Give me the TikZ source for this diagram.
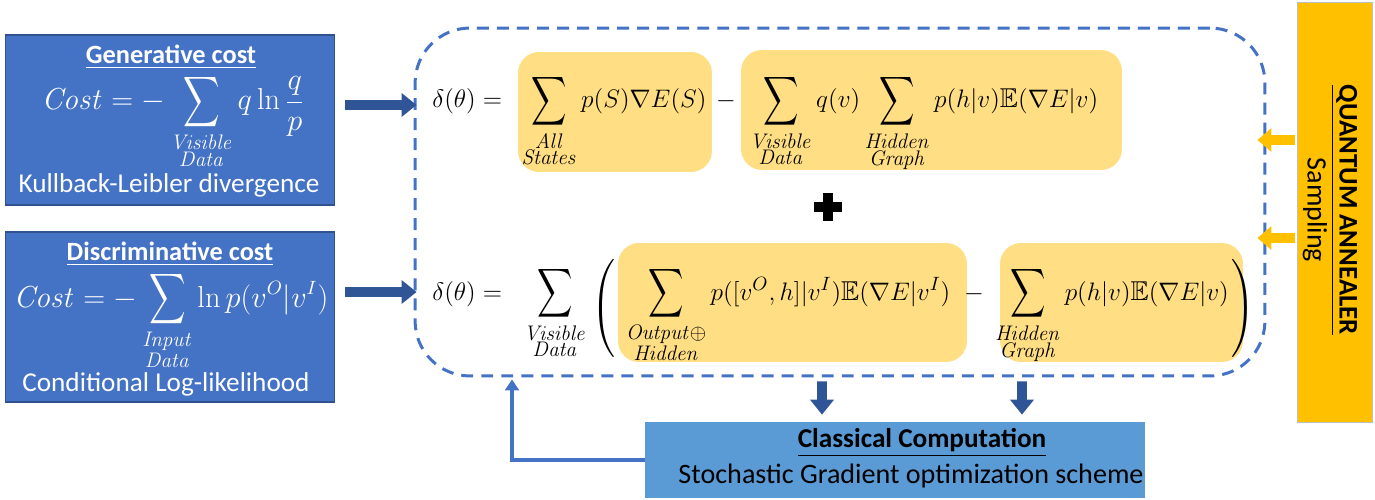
\documentclass[tikz,border=0pt]{standalone}
\usepackage{amsmath,amssymb}
\usepackage{graphicx}
\usepackage[no-math]{fontspec}
\setmainfont{Carlito}
\usetikzlibrary{arrows.meta}

\definecolor{costblue}{HTML}{4472C4}
\definecolor{costedge}{HTML}{2F528F}
\definecolor{arrowblue}{HTML}{2F5597}
\definecolor{termfill}{HTML}{FFDE84}
\definecolor{annealer}{HTML}{FFC000}
\definecolor{classical}{HTML}{5B9BD5}

% tall, narrow n-ary sum with limits underneath
\newcommand\Nsum{\mathop{\vcenter{\hbox{\scalebox{0.9}[1.25]{$\displaystyle\sum$}}}}\limits}
% two-line italic limit label, a little larger than script size
\newcommand\limword[1]{\mbox{\fontsize{12.5}{12.5}\selectfont$\mathit{#1}$}}
\newcommand\lims[2]{\substack{\limword{#1}\\\limword{#2}}}

\tikzset{
  costbox/.style={draw=costedge, fill=costblue, line width=0.6pt, inner sep=0pt},
  term/.style={fill=termfill, rounded corners=0.42cm, inner sep=0pt},
  wtext/.style={text=white, inner sep=0pt, font=\fontsize{15.5}{18}\selectfont},
  formula/.style={inner sep=0pt, font=\fontsize{15.5}{19}\selectfont},
  blockarrow/.style={draw=arrowblue, line width=5.5pt, -{Triangle[width=0.46cm,length=0.3cm]}},
  orangearrow/.style={draw=annealer, line width=5.5pt, -{Triangle[width=0.46cm,length=0.28cm]}},
  feedback/.style={draw=costblue, line width=2pt, -{Triangle[width=0.28cm,length=0.22cm]}},
}

\begin{document}
\begin{tikzpicture}[x=0.02cm, y=-0.02cm]
\useasboundingbox (0,0) rectangle (1375,500);

% cost boxes on the left
\node[costbox, minimum width=6.6cm, minimum height=3.4cm] (gen) at (170,120) {};
\node[wtext, font=\fontsize{15}{18}\selectfont\bfseries] (gentitle) at (171,57) {\underline{Generative cost}};
\node[wtext, anchor=base, font=\fontsize{16}{18}\selectfont] (genform) at (173,110)
  {$\displaystyle\mathit{Cost} = -\Nsum_{\lims{Visible}{Data}} q\ln\frac{q}{p}$};
\node[wtext] (genname) at (169,185) {Kullback-Leibler divergence};

\node[costbox, minimum width=6.6cm, minimum height=3.4cm] (disc) at (170,317) {};
\node[wtext, font=\fontsize{15}{18}\selectfont\bfseries] (disctitle) at (170,254) {\underline{Discriminative cost}};
\node[wtext, anchor=base, font=\fontsize{16}{18}\selectfont] (discform) at (171,307)
  {$\displaystyle\mathit{Cost} = -\Nsum_{\lims{Input}{Data}} \ln p(v^O|v^I)$};
\node[wtext] (discname) at (166,384) {Conditional Log-likelihood};

% dashed frame around the gradient expressions
\node[draw=costblue, line width=1.7pt, dash pattern=on 6.8pt off 4.6pt,
      rounded corners=1.1cm, minimum width=17cm, minimum height=6.96cm] (frame) at (840,202) {};

% highlighted terms
\node[term, minimum width=3.88cm, minimum height=2.4cm] (t1) at (615,112) {};
\node[term, minimum width=7.62cm, minimum height=2.4cm] (t2) at (931.5,110) {};
\node[term, minimum width=6.98cm, minimum height=2.38cm] (t3) at (792.5,302.5) {};
\node[term, minimum width=4.86cm, minimum height=2.38cm] (t4) at (1121.5,302.5) {};

% generative gradient
\node[formula, anchor=base west] (d1) at (432,108) {$\delta(\theta) =$};
\node[formula, anchor=base] (f1) at (614,108)
  {$\Nsum_{\lims{All}{States}} p(S)\nabla E(S)$};
\node[formula, anchor=base] (m1) at (726,108) {$-$};
\node[formula, anchor=base] (f2) at (924,108)
  {$\Nsum_{\lims{Visible}{Data}} q(v) \Nsum_{\lims{Hidden}{Graph}} p(h|v)\mathbb{E}(\nabla E|v)$};

% plus sign between the two expressions
\fill (814,202) rectangle (842,212);
\fill (823,193) rectangle (833,221);

% discriminative gradient
\node[formula, anchor=base west] (d2) at (432,300) {$\delta(\theta) =$};
\node[formula, anchor=base] (sv) at (555,300) {$\Nsum_{\lims{Visible}{Data}}$};
\node[formula] (lp) at (604,308) {$\left(\vcenter{\hbox{\rule{0pt}{2cm}}}\right.$};
\node[formula, anchor=base] (f3) at (788,300)
  {$\Nsum_{\substack{\limword{Output\oplus}\\\limword{Hidden}}} p([v^O,h]|v^I)\mathbb{E}(\nabla E|v^I)$};
\node[formula, anchor=base] (m2) at (974,300) {$-$};
\node[formula, anchor=base] (f4) at (1112,300)
  {$\Nsum_{\lims{Hidden}{Graph}} p(h|v)\mathbb{E}(\nabla E|v)$};
\node[formula] (rp) at (1242,308) {$\left.\vcenter{\hbox{\rule{0pt}{2cm}}}\right)$};

% quantum annealer
\node[draw=black!25, fill=annealer, line width=0.5pt, minimum width=1.5cm, minimum height=8.4cm] (annealer) at (1334.5,212) {};
\node[rotate=-90, inner sep=0pt, font=\fontsize{15.3}{18}\selectfont\bfseries] (anntitle) at (1344,210)
  {\underline{QUANTUM ANNEALER}};
\node[rotate=-90, inner sep=0pt, font=\fontsize{16}{18}\selectfont] (annsub) at (1315,210) {Sampling};

% classical computation
\node[fill=classical, minimum width=10cm, minimum height=1.52cm] (classical) at (895,460) {};
\node[inner sep=0pt, font=\fontsize{15.5}{18}\selectfont\bfseries] (cctitle) at (922,443) {\underline{Classical Computation}};
\node[inner sep=0pt, font=\fontsize{16}{18}\selectfont] (ccname) at (911,476) {Stochastic Gradient optimization scheme};

% connectors
\draw[blockarrow, shorten >=0.14cm] ([shift={(10,-15)}]gen.east) -- ([shift={(10,-15)}]gen.east -| frame.west);
\draw[blockarrow, shorten >=0.14cm] ([shift={(10,-25)}]disc.east) -- ([shift={(10,-25)}]disc.east -| frame.west);
\draw[blockarrow, shorten >=0.14cm] ([shift={(-18,4)}]frame.south) -- ([xshift=-0.36cm]frame.south |- classical.north);
\draw[blockarrow, shorten >=0.14cm] ([shift={(182,4)}]frame.south) -- ([xshift=3.64cm]frame.south |- classical.north);
\draw[orangearrow, shorten >=-0.14cm] ([shift={(-2,-72)}]annealer.west) -- ([shift={(-2,-72)}]annealer.west -| frame.east);
\draw[orangearrow, shorten >=-0.14cm] ([shift={(-2,26)}]annealer.west) -- ([shift={(-2,26)}]annealer.west -| frame.east);
\draw[feedback] (classical.west) -| ([shift={(-328,2)}]frame.south);
\end{tikzpicture}
\end{document}
